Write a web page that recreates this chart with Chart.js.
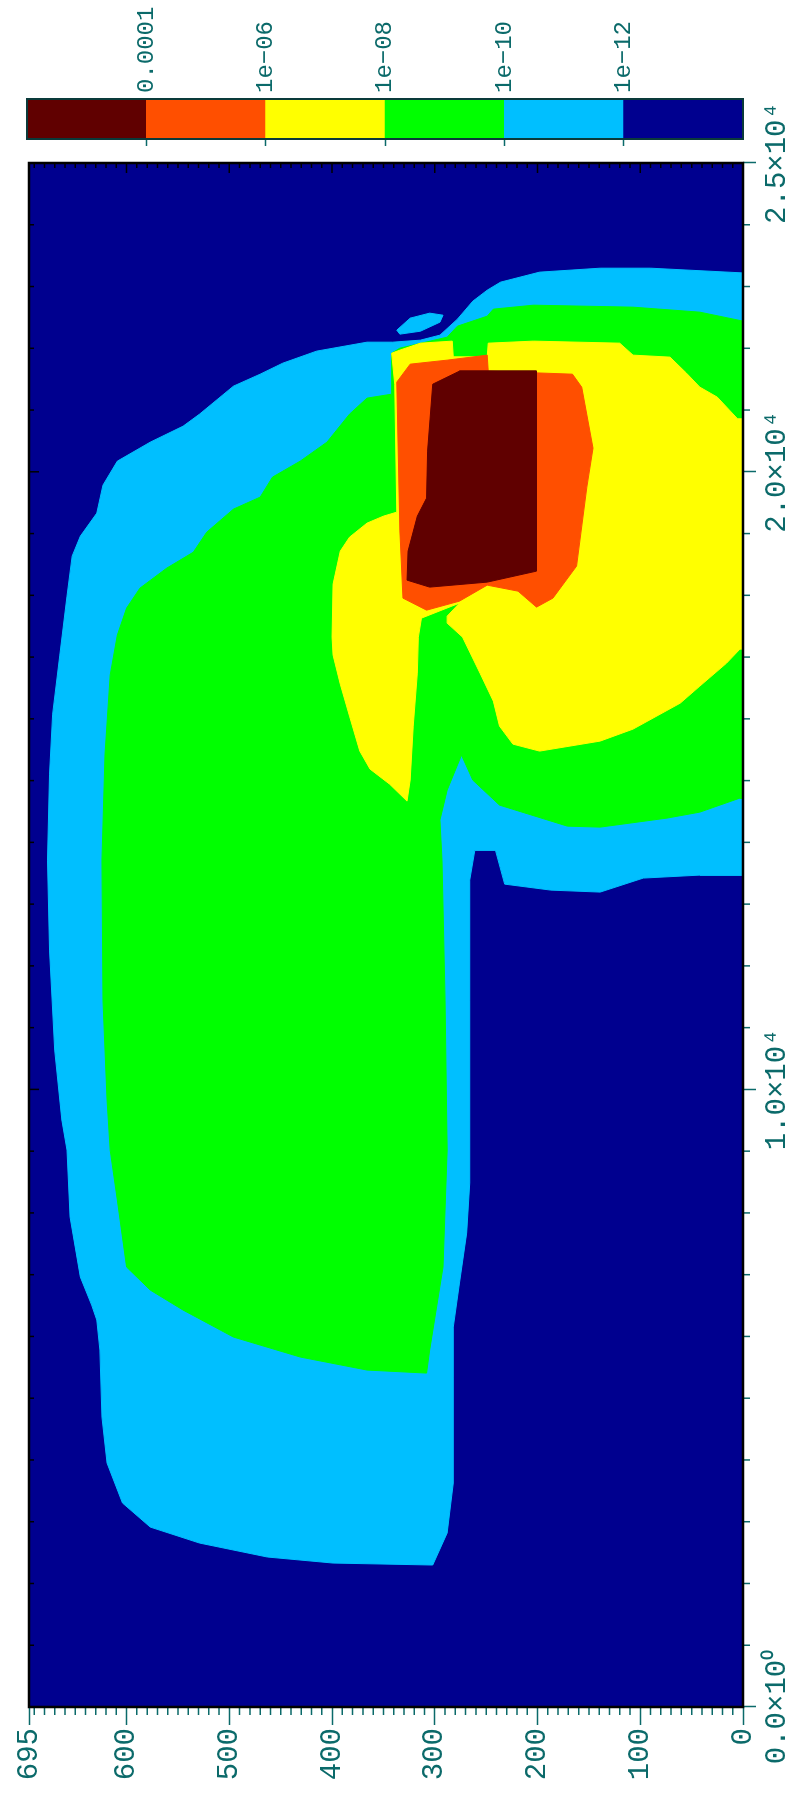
<!DOCTYPE html>
<html>
<head>
<meta charset="utf-8">
<script src="https://cdn.jsdelivr.net/npm/chart.js@4.4.1/dist/chart.umd.min.js"></script>
<style>
  html, body { margin: 0; padding: 0; width: 791px; height: 1800px; overflow: hidden; background: #fff; }
  /* the whole figure is drawn lying down and then turned a quarter left */
  #turn { position: absolute; left: 0; top: 0; width: 1800px; height: 791px;
          transform-origin: 0 0; transform: translate(0, 1800px) rotate(-90deg); }
  #plot { position: absolute; left: 0; top: 0; }
  #scale { position: absolute; left: 1640px; top: 0; }
</style>
</head>
<body>
<div id="turn">
  <canvas id="plot" width="1800" height="791"></canvas>
  <canvas id="scale" width="160" height="791"></canvas>
</div>
<script>
// contour levels (background navy is everything below 1e-12)
const levelNames = ['1e\u221212', '1e\u221210', '1e\u221208', '1e\u221206', '0.0001'];
const levelColors = ['#00008f', '#00bfff', '#00ff00', '#ffff00', '#ff4f00', '#600000'];
const levelBands = [1, 1, 1, 1, 1, 1];

const xTicks = [0, 10000, 20000, 25000];
const xTickNames = ['0.0\u00d710\u2070', '1.0\u00d710\u2074', '2.0\u00d710\u2074', '2.5\u00d710\u2074'];
const yTicks = [0, 100, 200, 300, 400, 500, 600, 695];
const xMinor = 1000;
const yMinor = 10;

// outlines of the filled regions, [x, y]
const above1e12 = [
  [23216,-5],[23297,90],[23297,139],[23233,198],[23071,236],[22941,249],[22763,263],[22472,278],
  [22213,295],[22132,314],[22099,341],[22099,366],[21954,415],[21759,448],[21581,470],[21387,496],
  [20934,529],[20739,545],[20480,577],[20173,609],[19784,623],[19331,629],[18958,645],[18635,653],
  [17987,658],[17032,665],[16077,672],[15105,675],[13713,677],[12256,675],[10637,670],[9504,663],
  [9018,658],[7933,655],[6962,645],[6508,634],[6266,629],[5780,626],[4695,624],[3950,619],
  [3303,604],[2914,577],[2655,529],[2429,463],[2331,399],[2299,302],[2817,288],[3627,282],
  [5343,282],[6152,282],[6865,276],[7674,269],[8484,266],[11446,266],[13389,266],[13875,261],
  [13875,241],[13324,232],[13227,187],[13195,139],[13422,97],[13470,42],[13470,-5]
];
const above1e12Spot = [
  [22294,337],[22488,324],[22569,305],[22536,292],[22423,295],[22277,314],[22229,334]
];
const above1e10 = [
  [22423,-5],[22585,42],[22666,107],[22698,204],[22634,243],[22520,249],[22358,278],[22180,288],
  [22002,334],[21921,342],[21257,342],[21193,366],[20934,383],[20480,405],[20173,431],[19914,458],
  [19590,470],[19396,496],[19023,522],[18699,535],[18440,561],[18117,587],[17793,600],[17356,609],
  [16708,616],[15429,621],[13713,624],[11446,623],[9827,619],[9018,616],[8208,609],[7124,600],
  [6751,577],[6427,545],[5990,496],[5667,431],[5456,366],[5407,308],[5780,305],[7124,292],
  [9018,288],[11446,290],[13713,293],[14361,295],[14846,288],[15413,274],[15008,263],[14603,237],
  [14263,171],[14247,139],[14393,74],[14490,42],[14717,3],[14717,-5]
];
const above1e08 = [
  [21921,342],[21970,334],[22083,314],[22116,283],[21857,282],[21857,249],[22083,248],[22116,204],
  [22083,120],[21889,107],[21857,71],[21597,55],[21371,42],[21209,25],[20853,5],[20853,-5],
  [17129,-5],[17129,3],[16902,16],[16530,42],[16255,61],[15834,107],[15640,139],[15478,198],
  [15591,224],[15882,237],[16287,243],[16740,256],[17323,273],[17550,288],[17663,288],[17874,276],
  [17631,313],[17323,316],[16740,317],[15882,321],[15008,324],[14668,327],[14943,344],[15186,363],
  [15478,373],[16044,383],[16562,392],[17032,399],[17323,400],[18181,399],[18716,392],[18942,383],
  [19169,366],[19282,350],[19347,337],[21419,339]
];
const above1e06 = [
  [21452,337],[21743,324],[21808,288],[21889,249],[21630,248],[21581,166],[21371,157],[20383,146],
  [19752,152],[18473,162],[17955,185],[17809,201],[18068,219],[18165,249],[17906,276],[17760,308],
  [17955,331],[19056,334]
];
const above1e04 = [
  [21419,302],[21630,276],[21630,201],[18392,201],[18214,249],[18133,305],[18246,327],[18716,326],
  [19282,317],[19574,308],[20335,307]
];

const ink = '#0b6a6a';
const labelFont = 'Liberation Mono';

function region(points, color) {
  const pts = points.map(p => ({x: p[0], y: p[1]}));
  pts.push(pts[0]);
  return {
    data: pts,
    backgroundColor: color,
    borderColor: color,
    borderWidth: 1,
    fill: 'shape',
    pointRadius: 0,
    tension: 0
  };
}

// navy under everything
const floorPaint = {
  id: 'floorPaint',
  beforeDatasetsDraw(chart) {
    const a = chart.chartArea;
    chart.ctx.save();
    chart.ctx.fillStyle = levelColors[0];
    chart.ctx.fillRect(a.left, a.top, a.width, a.height);
    chart.ctx.restore();
  }
};

// small ticks and the black frame
const frame = {
  id: 'frame',
  afterDraw(chart) {
    const {ctx, chartArea: a, scales: {x, y}} = chart;
    ctx.save();
    ctx.lineWidth = 1.5;
    ctx.strokeStyle = ink;
    ctx.beginPath();
    for (let v = 0; v <= x.max; v += xMinor) {
      if (xTicks.includes(v)) continue;
      const px = x.getPixelForValue(v);
      ctx.moveTo(px, a.bottom); ctx.lineTo(px, a.bottom + 7);
    }
    for (let v = 0; v <= y.max; v += yMinor) {
      if (yTicks.includes(v)) continue;
      const py = y.getPixelForValue(v);
      ctx.moveTo(a.left, py); ctx.lineTo(a.left - 8, py);
    }
    ctx.stroke();
    // inner ticks on the opposite sides
    ctx.strokeStyle = '#000';
    ctx.beginPath();
    for (let v = 0; v <= x.max; v += xMinor) {
      const px = x.getPixelForValue(v);
      const len = xTicks.includes(v) ? 10 : 5;
      ctx.moveTo(px, a.top); ctx.lineTo(px, a.top + len);
    }
    for (let v = 0; v <= y.max; v += yMinor) {
      const py = y.getPixelForValue(v);
      const len = v % 100 === 0 ? 10 : 5;
      ctx.moveTo(a.right, py); ctx.lineTo(a.right - len, py);
    }
    ctx.stroke();
    ctx.lineWidth = 2.5;
    ctx.strokeRect(a.left, a.top, a.width, a.height);
    ctx.restore();
  }
};

new Chart(document.getElementById('plot'), {
  type: 'line',
  data: {
    datasets: [
      region(above1e04, levelColors[5]),
      region(above1e06, levelColors[4]),
      region(above1e08, levelColors[3]),
      region(above1e10, levelColors[2]),
      region(above1e12Spot, levelColors[1]),
      region(above1e12, levelColors[1])
    ]
  },
  options: {
    responsive: false,
    animation: false,
    layout: { padding: { left: 0, top: 29, right: 163, bottom: 0 } },
    plugins: { legend: { display: false }, tooltip: { enabled: false } },
    scales: {
      x: {
        type: 'linear', min: 0, max: 25000,
        afterBuildTicks: s => { s.ticks = xTicks.map(v => ({ value: v })); },
        afterFit: s => { s.height = 48; },
        ticks: {
          autoSkip: false, maxRotation: 0, padding: 4, color: ink,
          font: { family: labelFont, size: 29 },
          callback: (v, i) => xTickNames[i]
        },
        grid: { drawOnChartArea: false, tickLength: 13, tickColor: ink, tickWidth: 1.5 },
        border: { display: false }
      },
      y: {
        type: 'linear', min: 0, max: 695,
        afterBuildTicks: s => { s.ticks = yTicks.map(v => ({ value: v })); },
        afterFit: s => { s.width = 93; },
        ticks: {
          autoSkip: false, padding: 3, color: ink,
          font: { family: labelFont, size: 29 },
          callback: (v, i) => String(yTicks[i])
        },
        grid: { drawOnChartArea: false, tickLength: 18, tickColor: ink, tickWidth: 1.5 },
        border: { display: false }
      }
    }
  },
  plugins: [floorPaint, frame]
});

// colour scale
const outline = {
  id: 'outline',
  afterDatasetsDraw(chart) {
    const a = chart.chartArea;
    chart.ctx.save();
    chart.ctx.strokeStyle = '#0a3a3a';
    chart.ctx.lineWidth = 2;
    chart.ctx.strokeRect(a.left, a.top, a.width, a.height);
    chart.ctx.restore();
  }
};

new Chart(document.getElementById('scale'), {
  type: 'bar',
  data: {
    labels: [''],
    datasets: levelColors.map((c, i) => ({
      data: [levelBands[i]], backgroundColor: c, borderWidth: 0,
      barPercentage: 1, categoryPercentage: 1
    }))
  },
  options: {
    responsive: false,
    animation: false,
    layout: { padding: { left: 14, top: 27, right: 0, bottom: 48 } },
    plugins: { legend: { display: false }, tooltip: { enabled: false } },
    scales: {
      x: { stacked: true, display: false },
      y: {
        stacked: true, position: 'right', min: 0, max: 6,
        afterBuildTicks: s => { s.ticks = levelNames.map((n, i) => ({ value: i + 1 })); },
        afterFit: s => { s.width = 99; },
        ticks: {
          padding: 6, color: ink,
          font: { family: labelFont, size: 24 },
          callback: (v, i) => levelNames[i]
        },
        grid: { drawOnChartArea: false, drawTicks: false },
        border: { display: false }
      },
      yl: {
        position: 'left', min: 0, max: 6,
        afterBuildTicks: s => { s.ticks = levelNames.map((n, i) => ({ value: i + 1 })); },
        afterFit: s => { s.width = 7; },
        ticks: { display: false },
        grid: { drawOnChartArea: false, tickLength: 7, tickColor: ink, tickWidth: 1.5 },
        border: { display: false }
      }
    }
  },
  plugins: [outline]
});
</script>
</body>
</html>
